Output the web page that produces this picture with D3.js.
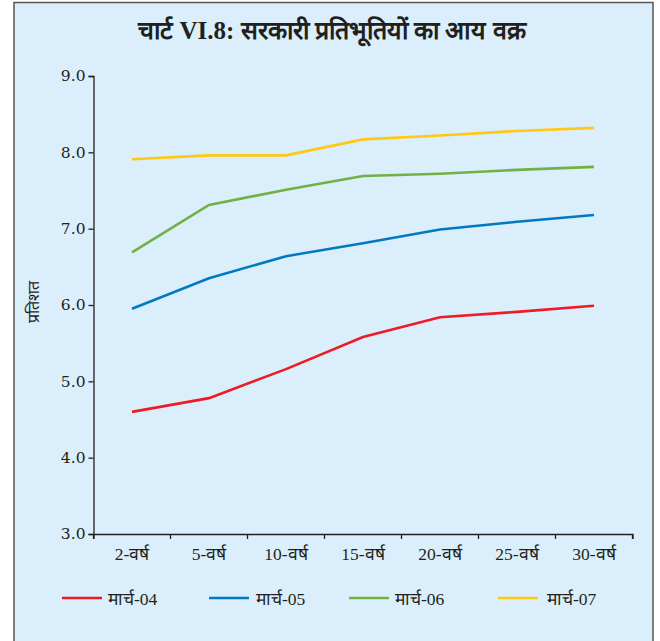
<!DOCTYPE html>
<html>
<head>
<meta charset="utf-8">
<script src="https://cdn.jsdelivr.net/npm/d3@7"></script>
<style>
  html, body { margin: 0; padding: 0; background: #ffffff; }
  svg { display: block; }
</style>
</head>
<body>
<svg id="chart" width="660" height="641"></svg>
<script>
// Yield curve of government securities (per cent), by residual maturity
const tenors = ["2-वर्ष", "5-वर्ष", "10-वर्ष", "15-वर्ष", "20-वर्ष", "25-वर्ष", "30-वर्ष"];
const seriesNames = ["मार्च-04", "मार्च-05", "मार्च-06", "मार्च-07"];
const march04 = [4.60, 4.78, 5.16, 5.58, 5.84, 5.91, 5.99];
const march05 = [5.95, 6.35, 6.64, 6.81, 6.99, 7.09, 7.18];
const march06 = [6.69, 7.31, 7.51, 7.69, 7.72, 7.77, 7.81];
const march07 = [7.91, 7.96, 7.96, 8.17, 8.22, 8.28, 8.32];
const yTicks = [3, 4, 5, 6, 7, 8, 9];
const colors = ["#ED1C24", "#0079C1", "#72B043", "#FFC813"];

const allSeries = [march04, march05, march06, march07];

const svg = d3.select("#chart");
const serif = "'Liberation Serif', 'Times New Roman', serif";
const numFont = "'DejaVu Serif', serif";

// panel
svg.append("rect")
  .attr("x", 14).attr("y", 2.5)
  .attr("width", 639).attr("height", 650)
  .attr("fill", "#DAEFFB")
  .attr("stroke", "#555")
  .attr("stroke-width", 1.5);

// title
svg.append("text")
  .attr("x", 332).attr("y", 39)
  .attr("text-anchor", "middle")
  .attr("font-family", serif)
  .attr("font-weight", "bold")
  .attr("font-size", 25)
  .attr("fill", "#231F20")
  .text("चार्ट VI.8: सरकारी प्रतिभूतियों का आय वक्र");

const x = d3.scaleBand().domain(tenors).range([93.5, 632.5]).padding(0);
const y = d3.scaleLinear().domain([3, 9]).range([534, 76]);

// y axis
const yAxis = svg.append("g")
  .attr("transform", "translate(93.5,0)")
  .call(d3.axisLeft(y).tickValues(yTicks).tickFormat(d3.format(".1f")).tickSize(5).tickPadding(3));
yAxis.selectAll("text")
  .attr("font-family", numFont).attr("font-size", 15.5).attr("fill", "#231F20");

// x axis
const xAxis = svg.append("g")
  .attr("transform", "translate(0,534)")
  .call(d3.axisBottom(x).tickSize(5).tickPadding(9));
xAxis.selectAll(".tick line").remove();
xAxis.selectAll("text")
  .attr("font-family", serif).attr("font-size", 17.5).attr("fill", "#231F20");
// tick marks sit at the band boundaries
xAxis.selectAll(".bnd")
  .data(tenors.map(t => x(t)).concat([x(tenors[tenors.length - 1]) + x.bandwidth()]))
  .enter().append("line")
  .attr("class", "bnd")
  .attr("x1", d => d).attr("x2", d => d)
  .attr("y1", 0).attr("y2", 5)
  .attr("stroke", "#231F20");

svg.selectAll(".domain, .tick line, .bnd")
  .attr("stroke", "#231F20").attr("stroke-width", 1.3);

// y axis title
svg.append("text")
  .attr("transform", "translate(39,302) rotate(-90)")
  .attr("text-anchor", "middle")
  .attr("font-family", serif)
  .attr("font-size", 16)
  .attr("fill", "#231F20")
  .text("प्रतिशत");

// series lines
const line = d3.line()
  .x((d, i) => x(tenors[i]) + x.bandwidth() / 2)
  .y(d => y(d));

allSeries.forEach((vals, k) => {
  svg.append("path")
    .datum(vals)
    .attr("d", line)
    .attr("fill", "none")
    .attr("stroke", colors[k])
    .attr("stroke-width", 2.6);
});

// legend
const legendX = [62, 209, 349, 498];
const legendTextX = [108, 256, 395, 547];
seriesNames.forEach((name, k) => {
  svg.append("line")
    .attr("x1", legendX[k]).attr("x2", legendX[k] + 40)
    .attr("y1", 598).attr("y2", 598)
    .attr("stroke", colors[k]).attr("stroke-width", 2.6);
  svg.append("text")
    .attr("x", legendTextX[k]).attr("y", 605)
    .attr("font-family", serif)
    .attr("font-size", 17.5)
    .attr("fill", "#231F20")
    .text(name);
});
</script>
</body>
</html>
